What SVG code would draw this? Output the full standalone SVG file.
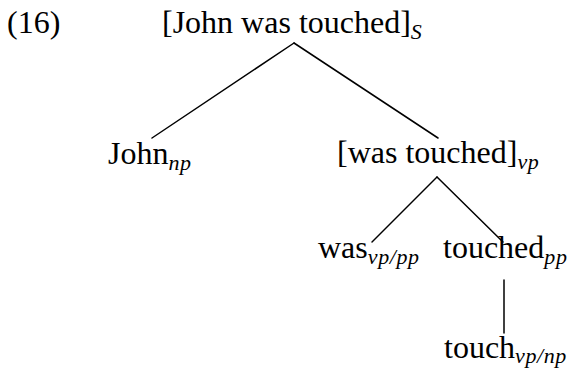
<svg xmlns="http://www.w3.org/2000/svg" width="573" height="370" viewBox="0 0 573 370">
<style>
text{font-family:"Liberation Serif","Times New Roman",serif;font-size:32px;fill:#000}
.sub{font-style:italic;font-size:22px;letter-spacing:0.6px}
.edge{stroke:#000;stroke-width:1.5;fill:none;stroke-linecap:round}
</style>
<rect width="573" height="370" fill="#fff"/>
<text id="label16" x="7" y="33">(16)</text>
<g id="connectors">
<line class="edge" x1="294" y1="43" x2="152" y2="138"/>
<line class="edge" x1="294" y1="43" x2="438" y2="138"/>
<line class="edge" x1="437" y1="177" x2="372" y2="242"/>
<line class="edge" x1="437" y1="177" x2="503" y2="242"/>
<line class="edge" x1="504" y1="280" x2="504" y2="333"/>
</g>
<g id="n_s"><text x="162" y="33">[John was touched]<tspan class="sub" dy="6">S</tspan></text></g>
<g id="n_john"><text x="108" y="164">John<tspan class="sub" dy="6">np</tspan></text></g>
<g id="n_vp"><text x="337" y="163">[was touched]<tspan class="sub" dy="6">vp</tspan></text></g>
<g id="n_was"><text x="318" y="258">was<tspan class="sub" dy="6">vp/pp</tspan></text></g>
<g id="n_touched"><text x="443" y="258">touched<tspan class="sub" dy="6">pp</tspan></text></g>
<g id="n_touch"><text x="444" y="358">touch<tspan class="sub" dy="5">vp/np</tspan></text></g>
</svg>
